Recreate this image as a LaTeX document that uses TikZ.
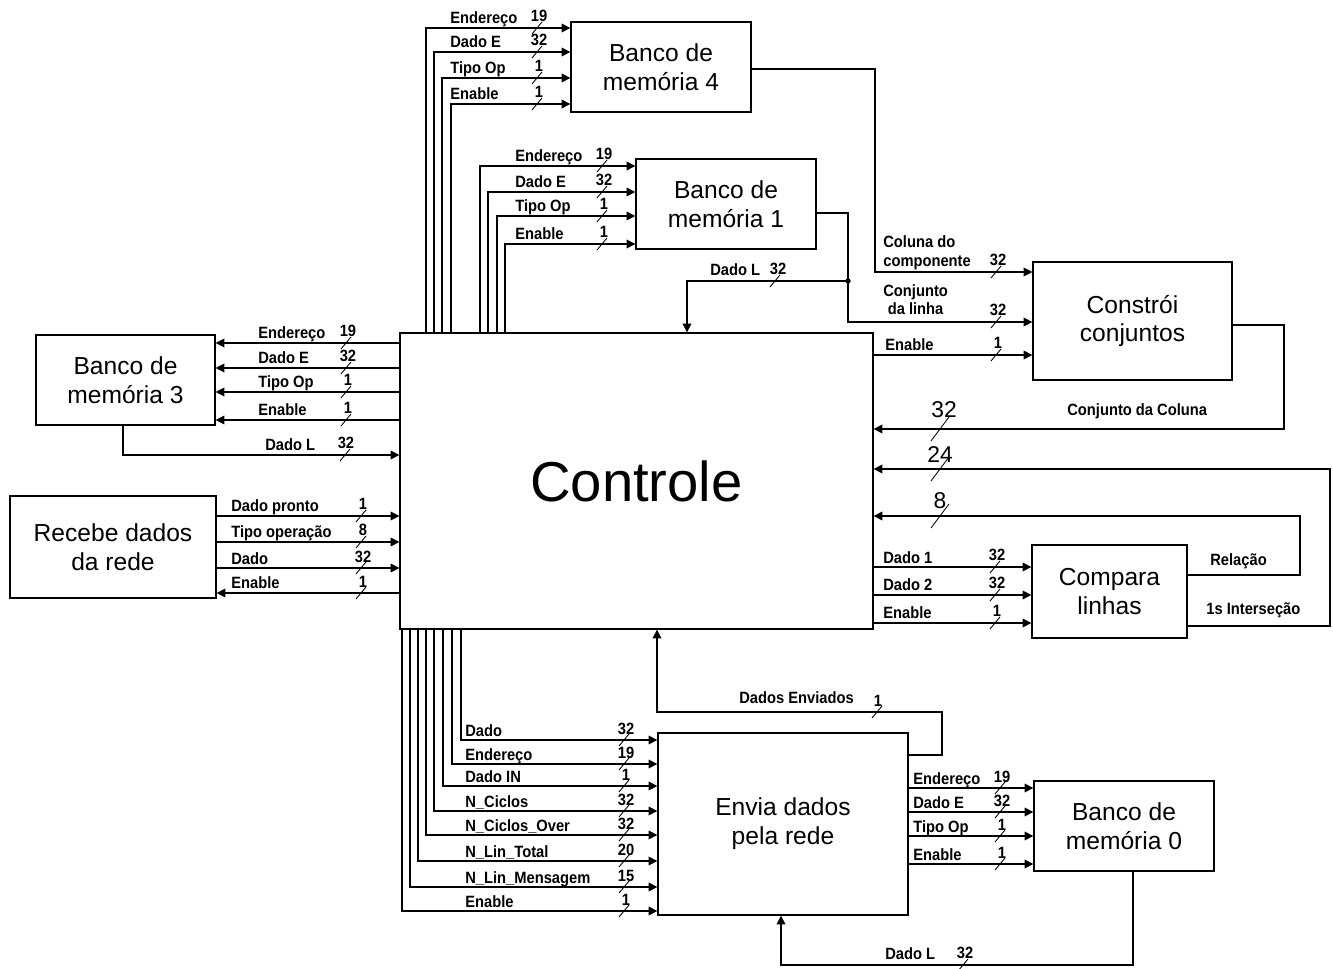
\documentclass[tikz,border=0pt]{standalone}
\usepackage{fontspec}
\setmainfont{Liberation Sans}
\newfontfamily\sigfont[FakeStretch=0.9]{Liberation Sans}
\usetikzlibrary{arrows.meta, calc}
\tikzset{
  blk/.style={rectangle, draw, line width=0.8pt, inner sep=0pt, align=center,
    font=\fontsize{14}{16.5}\selectfont},
  sig/.style={line width=0.8pt, -{Triangle[length=5pt, width=5pt]}},
  lbl/.style={font=\sigfont\fontsize{9.3}{10.5}\selectfont\bfseries, inner sep=0pt, anchor=base west},
  wnum/.style={font=\sigfont\fontsize{9.3}{10.5}\selectfont\bfseries, inner sep=0pt, anchor=base},
  bignum/.style={font=\fontsize{13}{14}\selectfont, inner sep=0pt, anchor=base},
  wm/.pic={\draw[line width=0.5pt] (-5,6) -- (5,-6);},
  bigwm/.pic={\draw[line width=0.5pt] (-9,12) -- (9,-12);},
  jdot/.style={circle, fill, inner sep=0pt, minimum size=3pt}
}
\begin{document}
\begin{tikzpicture}[x=0.02cm, y=-0.02cm]
  \useasboundingbox (0,0) rectangle (1333,969);

  \node[blk, minimum width=9.46cm, minimum height=5.92cm, font=\fontsize{32}{36}\selectfont] (ctl) at (636.5,481) {Controle};
  \node[blk, minimum width=3.6cm, minimum height=1.8cm] (bm4) at (661,67) {Banco de\\memória 4};
  \node[blk, minimum width=3.6cm, minimum height=1.8cm] (bm1) at (726,204) {Banco de\\memória 1};
  \node[blk, minimum width=3.58cm, minimum height=1.8cm] (bm3) at (125.5,380) {Banco de\\memória 3};
  \node[blk, minimum width=4.12cm, minimum height=2.04cm] (rec) at (113,547) {Recebe dados\\da rede};
  \node[blk, minimum width=3.98cm, minimum height=2.36cm] (cc) at (1132.5,321) {Constrói\\conjuntos};
  \node[blk, minimum width=3.1cm, minimum height=1.86cm] (cmp) at (1109.5,591.5) {Compara\\linhas};
  \node[blk, minimum width=5cm, minimum height=3.64cm] (env) at (783,824) {Envia dados\\pela rede};
  \node[blk, minimum width=3.6cm, minimum height=1.8cm] (bm0) at (1124,826) {Banco de\\memória 0};

  % banco 4 and banco 1
  \foreach \x/\y/\lab/\n in {426/28/Endereço/19, 434/52/Dado E/32, 442/78/Tipo Op/1, 451/104/Enable/1}{
    \draw[sig] (ctl.north -| \x,0) |- (bm4.west |- 0,\y);
    \node[lbl] at (450,\y-4) {\lab};
    \pic at (537,\y) {wm};
    \node[wnum] at (539,\y-6) {\n};
  }
  \foreach \x/\y/\lab/\n in {480/166/Endereço/19, 488/192/Dado E/32, 497/216/Tipo Op/1, 505/244/Enable/1}{
    \draw[sig] (ctl.north -| \x,0) |- (bm1.west |- 0,\y);
    \node[lbl] at (515,\y-4) {\lab};
    \pic at (602,\y) {wm};
    \node[wnum] at (604,\y-6) {\n};
  }

  % banco 3
  \foreach \y/\lab/\n in {343/Endereço/19, 368/Dado E/32, 392/Tipo Op/1, 420/Enable/1}{
    \draw[sig] (ctl.west |- 0,\y) -- (bm3.east |- 0,\y);
    \node[lbl] at (258,\y-4) {\lab};
    \pic at (346,\y) {wm};
    \node[wnum] at (348,\y-6) {\n};
  }
  \draw[sig] (bm3.south -| 123,0) |- (ctl.west |- 0,455);
  \node[lbl] at (265,451) {Dado L};
  \pic at (345,455) {wm};
  \node[wnum] at (346,449) {32};

  % recebe dados
  \foreach \y/\lab/\n in {516/Dado pronto/1, 542/Tipo operação/8, 568/Dado/32}{
    \draw[sig] (rec.east |- 0,\y) -- (ctl.west |- 0,\y);
    \node[lbl] at (231,\y-4) {\lab};
    \pic at (361,\y) {wm};
    \node[wnum] at (363,\y-6) {\n};
  }
  \draw[sig] (ctl.west |- 0,593) -- (rec.east |- 0,593);
  \node[lbl] at (231,589) {Enable};
  \pic at (361,593) {wm};
  \node[wnum] at (363,587) {1};

  % constroi conjuntos
  \draw[sig] (bm4.east |- 0,69) -| (875,272) -- (cc.west |- 0,272);
  \draw[sig] (bm1.east |- 0,213) -| (848,322) -- (cc.west |- 0,322);
  \coordinate (jn) at (848,281);
  \node[jdot] at (jn) {};
  \draw[sig] (jn) -| (ctl.north -| 687,0);
  \node[lbl] at (710,276) {Dado L};
  \pic at (775,281) {wm};
  \node[wnum] at (778,275) {32};
  \draw[sig] (ctl.east |- 0,355) -- (cc.west |- 0,355);
  \node[lbl, align=left, anchor=south west] at (883,270) {Coluna do\\componente};
  \node[lbl, align=center, anchor=south west] at (883,315) {Conjunto\\da linha};
  \node[lbl] at (885,351) {Enable};
  \foreach \y/\n in {272/32, 322/32, 355/1}{
    \pic at (996,\y) {wm};
    \node[wnum] at (998,\y-6) {\n};
  }

  % retornos
  \draw[sig] (cc.east |- 0,325) -| (1284,429) -- (ctl.east |- 0,429);
  \node[lbl] at (1067,416) {Conjunto da Coluna};
  \pic at (940,429) {bigwm};
  \node[bignum] at (944,418) {32};
  \draw[sig] (cmp.east |- 0,626) -| (1330,469) -- (ctl.east |- 0,469);
  \node[lbl] at (1206,615) {1s Interseção};
  \pic at (940,469) {bigwm};
  \node[bignum] at (940,463) {24};
  \draw[sig] (cmp.east |- 0,575) -| (1300,516) -- (ctl.east |- 0,516);
  \node[lbl] at (1210,566) {Relação};
  \pic at (940,516) {bigwm};
  \node[bignum] at (940,509) {8};

  % compara linhas
  \foreach \y/\lab/\n in {567/Dado 1/32, 595/Dado 2/32, 623/Enable/1}{
    \draw[sig] (ctl.east |- 0,\y) -- (cmp.west |- 0,\y);
    \node[lbl] at (883,\y-4) {\lab};
    \pic at (995,\y) {wm};
    \node[wnum] at (997,\y-6) {\n};
  }

  % envia dados
  \foreach \x/\y/\lab/\n in {461/740/Dado/32, 452/764/Endereço/19, 443/786/Dado IN/1, 434/811/N\_Ciclos/32,
      426/835/N\_Ciclos\_Over/32, 418/861/N\_Lin\_Total/20, 410/887/N\_Lin\_Mensagem/15, 402/911/Enable/1}{
    \draw[sig] (ctl.south -| \x,0) |- (env.west |- 0,\y);
    \node[lbl] at (465,\y-4) {\lab};
    \pic at (624,\y) {wm};
    \node[wnum] at (626,\y-6) {\n};
  }
  \draw[sig] (env.east |- 0,755) -| (942,712) -| (ctl.south -| 657,0);
  \node[lbl] at (739,704) {Dados Enviados};
  \pic at (877,712) {wm};
  \node[wnum] at (878,706) {1};

  % banco 0
  \foreach \y/\lab/\n in {788/Endereço/19, 812/Dado E/32, 836/Tipo Op/1, 864/Enable/1}{
    \draw[sig] (env.east |- 0,\y) -- (bm0.west |- 0,\y);
    \node[lbl] at (913,\y-4) {\lab};
    \pic at (1000,\y) {wm};
    \node[wnum] at (1002,\y-6) {\n};
  }
  \draw[sig] (bm0.south -| 1133,0) |- (781,965) -- (env.south -| 781,0);
  \node[lbl] at (885,959) {Dado L};
  \pic at (963,965) {wm};
  \node[wnum] at (965,958) {32};
\end{tikzpicture}
\end{document}
